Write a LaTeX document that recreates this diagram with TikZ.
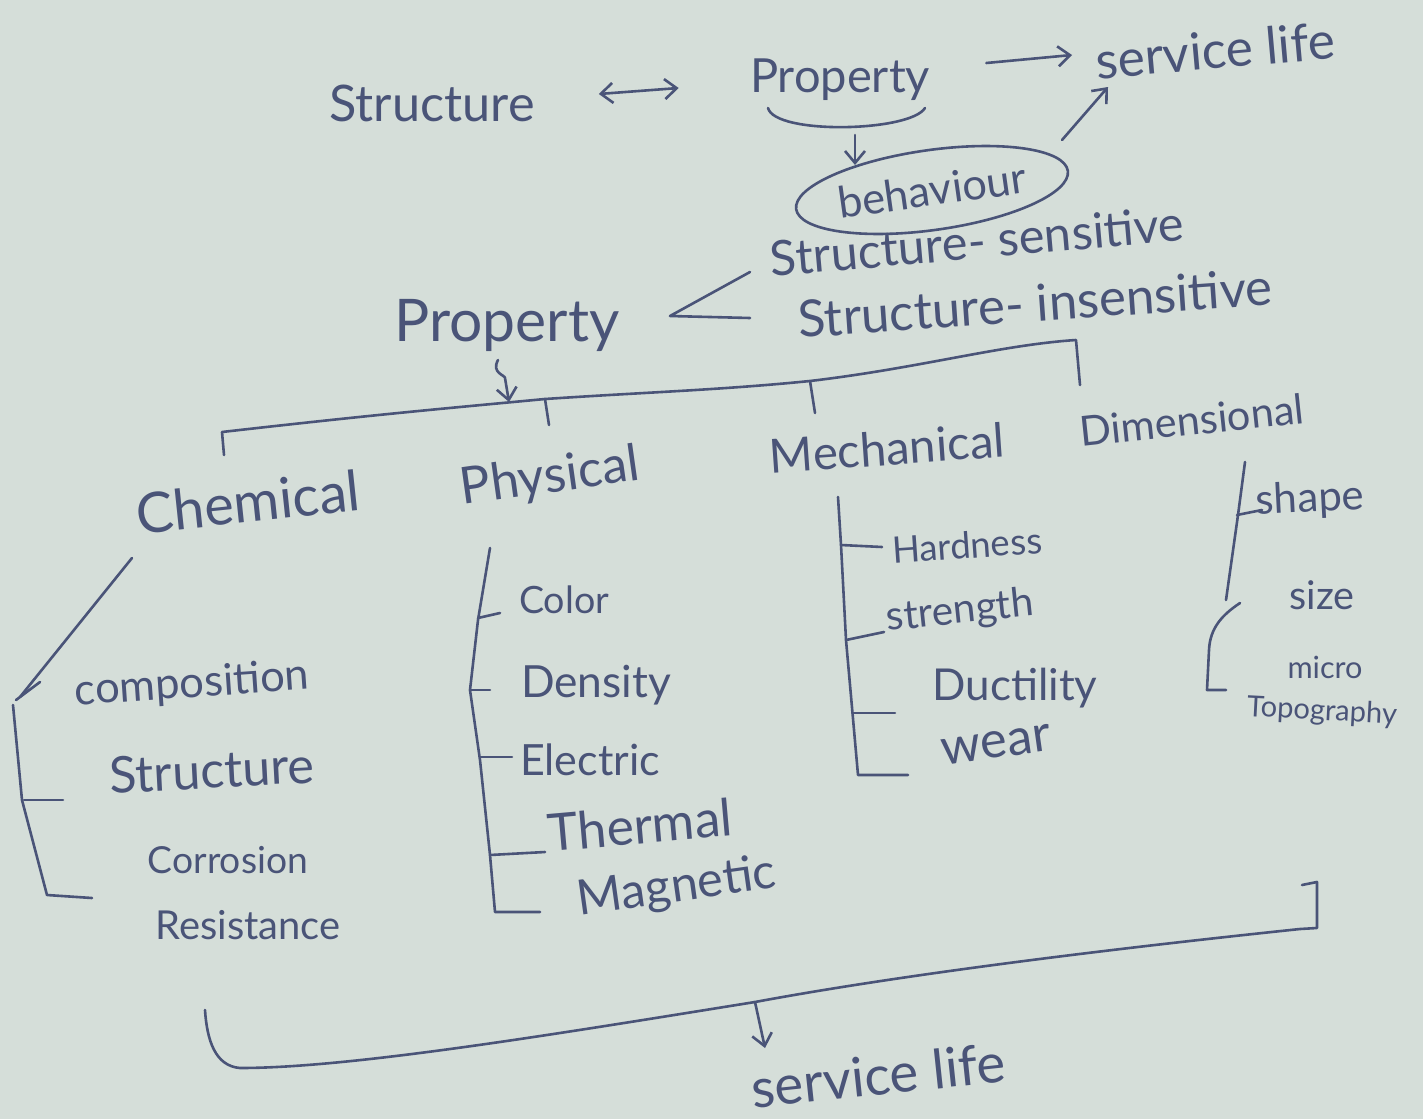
\documentclass[tikz,border=0pt]{standalone}
\usepackage{fontspec}
\setmainfont{Lato}
\usepackage{graphicx}
\usetikzlibrary{arrows.meta,calc,shapes.geometric}
\definecolor{paper}{RGB}{213,222,217}
\definecolor{ink}{RGB}{74,84,120}
\newcommand{\fitw}[2]{\resizebox{#1pt}{!}{#2}}
\begin{document}
\begin{tikzpicture}[x=1pt,y=-1pt,
  line width=2.6pt, line cap=round, line join=round,
  lbl/.style={inner sep=0pt, text=ink, font=\fontsize{36}{40}\selectfont},
  ln/.style={draw=ink},
  arr/.style={draw=ink, -{Straight Barb[length=12pt,width=20pt]}},
  darr/.style={draw=ink, {Straight Barb[length=12pt,width=20pt]}-{Straight Barb[length=12pt,width=20pt]}}]
\fill[paper] (0,0) rectangle (1423,1119);
\useasboundingbox (0,0) rectangle (1423,1119);

% top row
\node[lbl] (struct1) at (432,103) {\fitw{205}{Structure}};
\node[lbl] (prop1) at (840,80) {\fitw{180}{Property}};
\node[lbl, rotate=5] (serv1) at (1215,50) {\fitw{240}{service life}};
\node[lbl, draw=ink, ellipse, rotate=8, inner sep=2pt, minimum width=228pt, minimum height=80pt] (behav) at (932,190) {\fitw{190}{behaviour}};

\draw[darr] ($(struct1.east)+(63,-9)$) -- ($(prop1.west)+(-70,8)$);
\draw[arr] ($(prop1.east)+(55,-17)$) -- ($(serv1)+(-143,5)$);
\draw[ln] ($(prop1)+(-72,28)$) .. controls ($(prop1)+(-65,55)$) and ($(prop1)+(70,52)$) .. ($(prop1)+(85,28)$);
\draw[arr] ($(prop1)+(15,55)$) -- ($(prop1)+(15,85)$);
\draw[arr] ($(behav)+(130,-50)$) -- ($(serv1)+(-107,37)$);

% structure sensitive / insensitive
\node[lbl, rotate=5] (ss) at (977,241) {\fitw{415}{Structure- sensitive}};
\node[lbl, rotate=4] (si) at (1035,303) {\fitw{475}{Structure- insensitive}};
\node[lbl] (prop2) at (507,325) {\fitw{225}{Property}};
\draw[ln] ($(prop2)+(243,-53)$) -- ($(prop2)+(163,-9)$) -- ($(prop2)+(243,-7)$);
\draw[arr] ($(prop2)+(-9,35)$) .. controls ($(prop2)+(-16,48)$) and ($(prop2)+(-2,50)$) .. ($(prop2)+(-2,53)$) -- ($(prop2)+(2,77)$);

% main bracket
\coordinate (b0) at (224,455);
\coordinate (b1) at (222,432);
\coordinate (bp) at (545,399);
\coordinate (bm) at (810,381);
\coordinate (b2) at (1076,340);
\coordinate (b3) at (1080,385);
\draw[ln] (b0) -- (b1) .. controls (380,414) and (450,408) .. (bp) .. controls (650,392) and (720,390) .. (bm) .. controls (920,368) and (1000,345) .. (b2) -- (b3);
\draw[ln] (bp) -- (549,425);
\draw[ln] (bm) -- (815,413);

\node[lbl, rotate=6] (chem) at (248,502) {\fitw{225}{Chemical}};
\node[lbl, rotate=8] (phys) at (550,478) {\fitw{180}{Physical}};
\node[lbl, rotate=4] (mech) at (887,448) {\fitw{235}{Mechanical}};
\node[lbl, rotate=6] (dim) at (1192,420) {\fitw{225}{Dimensional}};

% chemical
\node[lbl, rotate=4] (comp) at (192,685) {\fitw{235}{composition}};
\node[lbl, rotate=3] (struct2) at (212,770) {\fitw{205}{Structure}};
\node[lbl] (corr) at (228,860) {\fitw{160}{Corrosion}};
\node[lbl] (resist) at (248,925) {\fitw{185}{Resistance}};
\draw[ln] (132,558) -- (20,697);
\draw[ln] (16,700) -- (40,682);
\draw[ln] (13,705) -- (22,800) -- (47,895) -- (92,898);
\draw[ln] (24,800) -- (63,800);

% physical
\node[lbl] (color) at (564,600) {\fitw{90}{Color}};
\node[lbl] (dens) at (596,685) {\fitw{150}{Density}};
\node[lbl] (elec) at (590,760) {\fitw{140}{Electric}};
\node[lbl, rotate=5] (therm) at (640,825) {\fitw{185}{Thermal}};
\node[lbl, rotate=8] (magn) at (677,888) {\fitw{200}{Magnetic}};
\draw[ln] (490,548) -- (478,620) -- (470,690) -- (480,760) -- (490,855) -- (495,912) -- (540,912);
\draw[ln] (478,618) -- (500,613);
\draw[ln] (470,690) -- (490,690);
\draw[ln] (480,757) -- (512,757);
\draw[ln] (490,855) -- (545,852);

% mechanical
\node[lbl, rotate=4] (hard) at (967,545) {\fitw{150}{Hardness}};
\node[lbl, rotate=6] (stren) at (960,612) {\fitw{148}{strength}};
\node[lbl] (duct) at (1015,688) {\fitw{165}{Ductility}};
\node[lbl, rotate=8] (wear) at (996,745) {\fitw{110}{wear}};
\draw[ln] (838,497) -- (841,545) -- (846,640) -- (858,775) -- (908,775);
\draw[ln] (841,545) -- (882,547);
\draw[ln] (846,640) -- (884,632);
\draw[ln] (853,713) -- (895,713);

% dimensional
\node[lbl, rotate=3] (shape) at (1310,500) {\fitw{108}{shape}};
\node[lbl] (size) at (1322,595) {\fitw{65}{size}};
\node[lbl] (micro) at (1325,667) {\fitw{75}{micro}};
\node[lbl, rotate=-3] (topo) at (1322,712) {\fitw{150}{Topography}};
\draw[ln] (1245,462) -- (1238,515) -- (1226,600);
\draw[ln] (1237,515) -- (1262,510);
\draw[ln] (1240,603) .. controls (1222,615) and (1210,628) .. (1209,650) -- (1207,690) -- (1226,690);

% bottom bracket
\coordinate (c0) at (1302,885);
\coordinate (c1) at (1317,882);
\coordinate (c2) at (1317,928);
\coordinate (cm) at (755,1002);
\coordinate (c3) at (205,1010);
\draw[ln] (c0) -- (c1) -- (c2) -- (1300,929) .. controls (1100,950) and (900,975) .. (cm) .. controls (550,1035) and (350,1068) .. (240,1068) .. controls (215,1066) and (207,1040) .. (c3);
\node[lbl, rotate=6] (serv2) at (878,1075) {\fitw{255}{service life}};
\draw[arr] (cm) -- (765,1048);
\end{tikzpicture}
\end{document}
